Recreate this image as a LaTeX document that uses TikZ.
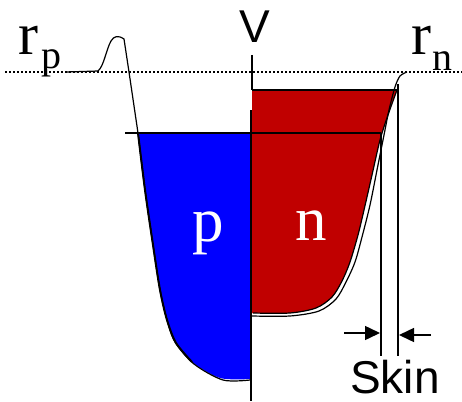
\documentclass[tikz,border=0pt]{standalone}
\usepackage{fontspec}
\setmainfont{Liberation Serif}
\setsansfont{Liberation Sans}
\usetikzlibrary{arrows.meta}
\definecolor{pblue}{RGB}{0,0,255}
\definecolor{nred}{RGB}{192,0,0}
\tikzset{
  thin line/.style={line width=1.2pt, black},
  bold line/.style={line width=2pt, black},
  skinarrow/.style={line width=1.5pt, -{Triangle[length=15pt,width=14pt]}},
  serifbig/.style={font=\fontsize{60}{60}\selectfont, inner sep=0pt},
  serifsub/.style={font=\fontsize{40}{40}\selectfont, inner sep=0pt},
  sanslabel/.style={font=\sffamily\fontsize{46}{46}\selectfont, inner sep=0pt},
  regionlabel/.style={font=\fontsize{63}{63}\selectfont, text=white, inner sep=0pt}
}
\begin{document}
\begin{tikzpicture}[x=1pt,y=-1pt]
\useasboundingbox (0,0) rectangle (462,401);
% regions
\fill[pblue] (250,379) -- (250,133) -- plot[smooth, tension=0.5] coordinates {(138,133) (145,190) (153,245) (160,290) (167,320) (176,343) (192,362) (220,378) (250,379)} -- cycle;
\draw[bold line] plot[smooth, tension=0.5] coordinates {(138,133) (145,190) (153,245) (160,290) (167,320) (176,343) (192,362)};
\fill[nred] (252,313) -- (252,90) -- plot[smooth, tension=0.5] coordinates {(397,90) (388,115) (380,140) (372,175) (364,210) (358,235) (350,262) (342,281) (332,297) (316,308) (290,313) (252,313)} -- cycle;
% dotted reference level
\coordinate (dl) at (5,72);
\coordinate (dr) at (462,72);
\draw[line width=2pt, dash pattern=on 2pt off 2pt] (dl) -- (dr);
% horizontal levels
\coordinate (hl) at (125,133);
\coordinate (hr) at (381,133);
\draw[bold line] (hl) -- (hr);
\draw[bold line] (252,90) -- (397,90);
% potential curve p side
\draw[thin line] (66,72) -- (98,71) .. controls (104,66) and (106,50) .. (111,41) .. controls (114,36) and (118,35) .. (124,39) -- (129,72) -- plot[smooth, tension=0.5] coordinates {(138,133) (145,190) (153,245) (160,290) (167,320) (175,342) (194,364) (223,380) (250,380)};
% potential curve n side
\draw[thin line] plot[smooth, tension=0.5] coordinates {(252,316) (290,316) (319,311) (336,299) (346,282) (355,262) (362,237) (370,205) (377,170) (384,135) (389,110) (395,87) (400,76) (407,72)};
\draw[thin line] plot[smooth, tension=0.5] coordinates {(253,313) (290,313) (316,308) (332,297) (342,281) (350,262) (358,235) (364,210) (372,175) (380,140) (388,115) (397,90)};
% V line
\coordinate (vt) at (252,55);
\coordinate (vb) at (252,90);
\draw[thin line, line width=1.5pt] (vt) -- (vb);
\coordinate (jt) at (251,110);
\coordinate (jb) at (251,401);
\draw[thin line, line width=1.5pt] (jt) -- (jb);
% skin lines
\coordinate (s1t) at (381,133);
\coordinate (s1b) at (381,356);
\coordinate (s2t) at (398,84);
\coordinate (s2b) at (398,356);
\draw[thin line, line width=1.5pt] (s1t) -- (s1b);
\draw[thin line, line width=1.5pt] (s2t) -- (s2b);
\coordinate (a1s) at (344,333);
\coordinate (a1e) at (380,333);
\coordinate (a2s) at (431,335);
\coordinate (a2e) at (399,335);
\draw[skinarrow] (a1s) -- (a1e);
\draw[skinarrow] (a2s) -- (a2e);
% labels
\node[serifbig, anchor=base west] (rp) at (18,55) {r};
\node[serifsub, anchor=base west] (rpsub) at (41,69) {p};
\node[serifbig, anchor=base west] (rn) at (411,55) {r};
\node[serifsub, anchor=base west] (rnsub) at (432,71) {n};
\node[sanslabel, anchor=base] (V) at (255,43) {V};
\node[sanslabel, anchor=base] (skin) at (395,393) {Skin};
\node[regionlabel, anchor=base] (p) at (208,241) {p};
\node[regionlabel, anchor=base] (n) at (311,240) {n};
\end{tikzpicture}
\end{document}
